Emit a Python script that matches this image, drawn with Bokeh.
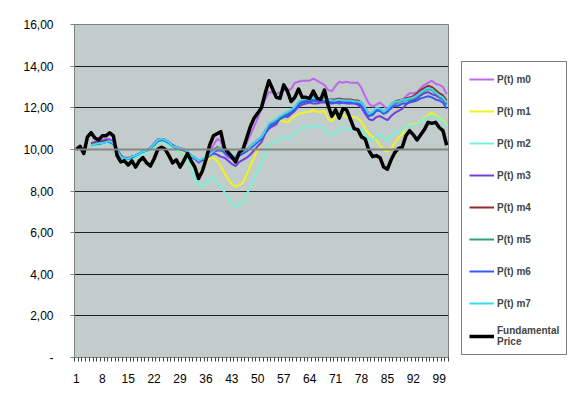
import math
from bokeh.plotting import figure
from bokeh.models import Legend, LegendItem, FixedTicker, Span
from bokeh.embed import file_html
from bokeh.resources import INLINE

# ---------------- data ----------------
t = list(range(1, 102))
labels = ["P(t) m0", "P(t) m1", "P(t) m2", "P(t) m3", "P(t) m4", "P(t) m5", "P(t) m6", "P(t) m7"]
colors = ["#BF66F0", "#F2F21E", "#78F0DA", "#7040DC", "#992828", "#2FA07E", "#3458F2", "#3CD8F4"]
reference_level = 10.0

lead = [None, None, None, None]  # t = 1..4 have no value

m0 = lead + [10.3, 10.35, 10.4, 10.45, 10.5, 10.5, 10.35, 10.0, 9.7, 9.6,
             9.6, 9.65, 9.7, 9.8, 9.9, 9.95, 10.05, 10.3, 10.5, 10.5,
             10.45, 10.35, 10.2, 10.1, 10.05, 10.0, 9.9, 9.7, 9.55, 9.35,
             9.45, 9.6, 9.85, 10.2, 10.5, 10.4, 9.8, 9.6, 9.55, 9.45,
             9.7, 10.0, 10.3, 10.7, 11.1, 11.5, 12.0, 12.4, 12.75, 12.75,
             12.65, 12.75, 12.85, 12.85, 12.9, 13.2, 13.25, 13.3, 13.3, 13.3,
             13.4, 13.3, 13.2, 13.1, 12.85, 12.8, 13.05, 13.25, 13.2, 13.25,
             13.2, 13.2, 13.2, 12.95, 12.55, 12.2, 12.05, 12.15, 12.25, 12.1,
             11.9, 11.95, 12.15, 12.25, 12.35, 12.55, 12.7, 12.7, 12.75, 12.95,
             13.1, 13.2, 13.3, 13.15, 13.1, 13.0, 12.65]
m1 = lead + [10.2, 10.2, 10.25, 10.3, 10.3, 10.35, 10.25, 10.0, 9.7, 9.55,
             9.5, 9.55, 9.6, 9.7, 9.8, 9.85, 9.95, 10.15, 10.3, 10.35,
             10.3, 10.2, 10.05, 9.95, 9.9, 9.8, 9.6, 9.3, 9.05, 8.9,
             9.0, 9.35, 9.6, 9.6, 9.45, 9.2, 8.85, 8.55, 8.35, 8.2,
             8.3, 8.4, 8.8, 9.2, 9.6, 10.0, 10.4, 10.75, 11.1, 11.15,
             11.2, 11.4, 11.35, 11.3, 11.45, 11.6, 11.7, 11.75, 11.8, 11.8,
             11.9, 11.8, 11.8, 11.85, 11.45, 11.35, 11.6, 11.7, 11.65, 11.55,
             11.55, 11.55, 11.5, 11.3, 11.0, 10.75, 10.6, 10.45, 10.2, 9.95,
             9.9, 10.05, 10.3, 10.55, 10.75, 11.05, 11.2, 11.2, 11.25, 11.3,
             11.5, 11.65, 11.75, 11.65, 11.5, 11.35, 11.15]
m2 = lead + [10.15, 10.2, 10.2, 10.25, 10.3, 10.3, 10.2, 9.95, 9.65, 9.5,
             9.5, 9.55, 9.6, 9.7, 9.8, 9.85, 9.95, 10.15, 10.3, 10.35,
             10.3, 10.2, 10.05, 9.95, 9.85, 9.75, 9.55, 9.1, 8.55, 8.3,
             8.25, 8.35, 8.55, 8.65, 8.45, 8.25, 7.95, 7.65, 7.4, 7.25,
             7.4, 7.45, 7.85, 8.2, 8.6, 9.0, 9.3, 9.8, 10.2, 10.3,
             10.35, 10.55, 10.6, 10.55, 10.55, 10.8, 10.95, 11.05, 11.05, 11.05,
             11.15, 11.1, 11.1, 10.95, 10.7, 10.7, 10.8, 10.95, 11.1, 10.95,
             10.95, 11.0, 11.0, 10.95, 10.7, 10.45, 10.4, 10.65, 10.75, 10.5,
             10.45, 10.65, 10.85, 10.85, 10.9, 11.1, 11.15, 11.15, 11.2, 11.3,
             11.45, 11.55, 11.6, 11.55, 11.45, 11.3, 11.1]
m3 = lead + [10.3, 10.35, 10.35, 10.4, 10.45, 10.45, 10.3, 10.0, 9.7, 9.55,
             9.55, 9.65, 9.7, 9.8, 9.9, 9.95, 10.05, 10.25, 10.45, 10.5,
             10.45, 10.35, 10.15, 10.1, 10.05, 10.0, 9.85, 9.65, 9.55, 9.4,
             9.5, 9.55, 9.7, 9.8, 9.75, 9.65, 9.6, 9.45, 9.3, 9.2,
             9.4, 9.5, 9.6, 9.75, 9.95, 10.15, 10.35, 10.75, 11.0, 11.1,
             11.2, 11.5, 11.6, 11.55, 11.7, 11.85, 12.05, 12.15, 12.2, 12.25,
             12.2, 12.2, 12.25, 12.25, 12.2, 12.2, 12.25, 12.2, 12.25, 12.2,
             12.2, 12.2, 12.15, 12.0, 11.7, 11.45, 11.4, 11.55, 11.6, 11.5,
             11.4, 11.6, 11.75, 11.85, 11.95, 12.15, 12.3, 12.35, 12.45, 12.6,
             12.7, 12.75, 12.65, 12.6, 12.5, 12.4, 12.15]
m4 = lead + [10.25, 10.3, 10.3, 10.35, 10.4, 10.4, 10.3, 10.0, 9.7, 9.55,
             9.55, 9.65, 9.7, 9.8, 9.9, 9.95, 10.05, 10.25, 10.45, 10.5,
             10.45, 10.35, 10.2, 10.1, 10.05, 10.0, 9.9, 9.7, 9.6, 9.45,
             9.5, 9.6, 9.75, 9.95, 10.1, 10.05, 9.9, 9.75, 9.6, 9.65,
             9.75, 9.85, 10.0, 10.15, 10.3, 10.45, 10.6, 10.9, 11.2, 11.3,
             11.4, 11.55, 11.65, 11.75, 11.85, 12.0, 12.25, 12.4, 12.45, 12.45,
             12.5, 12.45, 12.45, 12.45, 12.4, 12.4, 12.4, 12.45, 12.4, 12.4,
             12.4, 12.35, 12.35, 12.25, 12.0, 11.7, 11.75, 11.95, 11.95, 11.8,
             11.9, 12.15, 12.3, 12.35, 12.4, 12.45, 12.5, 12.55, 12.7, 12.85,
             12.95, 13.05, 13.0, 12.85, 12.7, 12.6, 12.35]
m5 = lead + [10.2, 10.25, 10.25, 10.3, 10.35, 10.35, 10.3, 10.0, 9.65, 9.55,
             9.55, 9.6, 9.7, 9.8, 9.9, 9.95, 10.05, 10.25, 10.4, 10.45,
             10.45, 10.35, 10.15, 10.05, 10.0, 10.0, 9.9, 9.7, 9.6, 9.45,
             9.5, 9.6, 9.7, 9.9, 10.0, 10.0, 9.9, 9.75, 9.6, 9.65,
             9.75, 9.85, 9.95, 10.1, 10.25, 10.4, 10.55, 10.85, 11.15, 11.25,
             11.35, 11.5, 11.6, 11.7, 11.8, 11.95, 12.2, 12.3, 12.35, 12.35,
             12.4, 12.35, 12.4, 12.35, 12.35, 12.3, 12.3, 12.35, 12.3, 12.3,
             12.3, 12.3, 12.25, 12.2, 11.95, 11.7, 11.75, 11.95, 11.9, 11.75,
             11.9, 12.1, 12.25, 12.25, 12.35, 12.35, 12.4, 12.45, 12.55, 12.7,
             12.8, 12.9, 12.85, 12.7, 12.55, 12.45, 12.2]
m6 = lead + [10.2, 10.25, 10.3, 10.3, 10.35, 10.35, 10.25, 9.95, 9.65, 9.55,
             9.55, 9.6, 9.7, 9.8, 9.9, 9.95, 10.05, 10.2, 10.4, 10.45,
             10.4, 10.3, 10.15, 10.05, 10.0, 9.95, 9.85, 9.7, 9.55, 9.45,
             9.5, 9.55, 9.7, 9.85, 9.95, 9.95, 9.85, 9.7, 9.55, 9.6,
             9.7, 9.8, 9.9, 10.05, 10.2, 10.35, 10.5, 10.8, 11.1, 11.2,
             11.3, 11.45, 11.55, 11.65, 11.75, 11.9, 12.15, 12.25, 12.3, 12.3,
             12.35, 12.3, 12.35, 12.3, 12.3, 12.25, 12.25, 12.3, 12.25, 12.25,
             12.25, 12.25, 12.2, 12.1, 11.85, 11.6, 11.65, 11.85, 11.85, 11.7,
             11.8, 12.0, 12.1, 12.1, 12.2, 12.2, 12.25, 12.3, 12.35, 12.45,
             12.5, 12.55, 12.5, 12.4, 12.35, 12.25, 11.95]
m7 = lead + [10.2, 10.25, 10.3, 10.3, 10.35, 10.4, 10.3, 10.0, 9.65, 9.55,
             9.55, 9.65, 9.7, 9.8, 9.9, 9.95, 10.05, 10.25, 10.45, 10.5,
             10.45, 10.35, 10.15, 10.1, 10.05, 10.0, 9.9, 9.7, 9.6, 9.45,
             9.55, 9.6, 9.75, 9.9, 10.05, 10.05, 9.95, 9.8, 9.65, 9.7,
             9.8, 9.9, 10.0, 10.15, 10.3, 10.45, 10.6, 10.9, 11.25, 11.35,
             11.45, 11.6, 11.7, 11.8, 11.9, 12.05, 12.3, 12.4, 12.45, 12.4,
             12.5, 12.4, 12.45, 12.4, 12.4, 12.35, 12.35, 12.4, 12.35, 12.35,
             12.35, 12.3, 12.3, 12.25, 12.0, 11.7, 11.8, 12.0, 11.95, 11.8,
             11.95, 12.15, 12.3, 12.3, 12.4, 12.4, 12.45, 12.5, 12.6, 12.75,
             12.85, 12.95, 12.9, 12.75, 12.6, 12.5, 12.25]
fundamental = [10.0, 10.15, 9.8, 10.6, 10.8, 10.55, 10.45, 10.65, 10.65, 10.8,
               10.65, 9.7, 9.4, 9.45, 9.25, 9.45, 9.15, 9.45, 9.6, 9.35,
               9.2, 9.55, 10.0, 10.1, 10.0, 9.7, 9.35, 9.5, 9.15, 9.45,
               9.8, 9.45, 9.15, 8.6, 8.95, 9.5, 10.2, 10.65, 10.75, 10.85,
               10.05, 9.85, 9.65, 9.4, 9.85, 10.0, 10.55, 11.1, 11.5, 11.75,
               12.0, 12.7, 13.3, 12.9, 12.5, 12.45, 13.1, 12.8, 12.3, 12.5,
               12.9, 12.5, 12.5, 12.45, 12.8, 12.45, 12.4, 12.85, 12.1, 11.6,
               11.9, 11.5, 11.95, 11.9, 11.45, 11.0, 10.95, 10.6, 10.5, 9.95,
               9.65, 9.7, 9.6, 9.15, 9.05, 9.5, 9.85, 10.05, 10.1, 10.65,
               10.9, 10.7, 10.45, 10.7, 10.95, 11.3, 11.25, 11.3, 11.05, 10.9,
               10.2]

y_ticks = [0, 2, 4, 6, 8, 10, 12, 14, 16]
y_tick_labels = ["-", "2,00", "4,00", "6,00", "8,00", "10,00", "12,00", "14,00", "16,00"]
x_tick_labels = [1, 8, 15, 22, 29, 36, 43, 50, 57, 64, 71, 78, 85, 92, 99]

# ---------------- figure ----------------
FONT = "Liberation Sans"
p = figure(width=582, height=399, frame_width=374, frame_height=333,
           x_range=(0.5, 101.5), y_range=(0, 16),
           output_backend="svg", toolbar_location=None,
           min_border_left=74, min_border_right=134, min_border_top=24, min_border_bottom=42)
p.background_fill_color = "#C2CDCB"
p.border_fill_color = "white"
p.outline_line_color = "#808080"
p.outline_line_width = 1

p.add_layout(Span(location=reference_level, dimension="width",
                  line_color="#858585", line_width=2))

series = [m0, m1, m2, m3, m4, m5, m6, m7]
renderers = []
for vals, col in zip(series, colors):
    y = [float("nan") if v is None else v for v in vals]
    r = p.line(t, y, line_color=col, line_width=2)
    renderers.append(r)
rb = p.line(t, fundamental, line_color="black", line_width=3.5, line_join="round")

# axes
p.yaxis.ticker = FixedTicker(ticks=y_ticks)
p.yaxis.major_label_overrides = {v: s for v, s in zip(y_ticks, y_tick_labels)}
p.yaxis.minor_tick_line_color = None
p.yaxis.major_tick_out = 4
p.yaxis.major_tick_in = 0
p.yaxis.major_tick_line_color = "#808080"
p.yaxis.axis_line_color = "#808080"
p.yaxis.major_label_standoff = 17

p.xaxis.ticker = FixedTicker(ticks=x_tick_labels,
                             minor_ticks=[i + 0.5 for i in range(0, 102)])
p.xaxis.major_tick_out = 0
p.xaxis.major_tick_in = 0
p.xaxis.minor_tick_out = 4
p.xaxis.minor_tick_in = 0
p.xaxis.minor_tick_line_color = "#404040"
p.xaxis.axis_line_color = "#808080"
p.xaxis.major_label_standoff = 12

for ax in (p.xaxis, p.yaxis):
    ax.major_label_text_font = FONT
    ax.major_label_text_font_size = "12px"
    ax.major_label_text_color = "black"

p.xgrid.grid_line_color = None
p.ygrid.ticker = FixedTicker(ticks=y_ticks)
p.ygrid.grid_line_color = "#1e1e1e"
p.ygrid.grid_line_width = 1

items = [LegendItem(label=lab, renderers=[r]) for lab, r in zip(labels, renderers)]
items.append(LegendItem(label="Fundamental\nPrice", renderers=[rb]))
legend = Legend(items=items, location=(13, 2))
legend.label_text_font = FONT
legend.label_text_font_style = "bold"
legend.label_text_font_size = "10px"
legend.glyph_width = 25
legend.glyph_height = 20
legend.label_height = 20
legend.label_standoff = 3
legend.spacing = 12
legend.padding = 7
legend.margin = 12
legend.border_line_color = "black"
legend.border_line_width = 1
legend.background_fill_color = "white"
p.add_layout(legend, "right")

open("out.html", "w").write(file_html(p, INLINE))
